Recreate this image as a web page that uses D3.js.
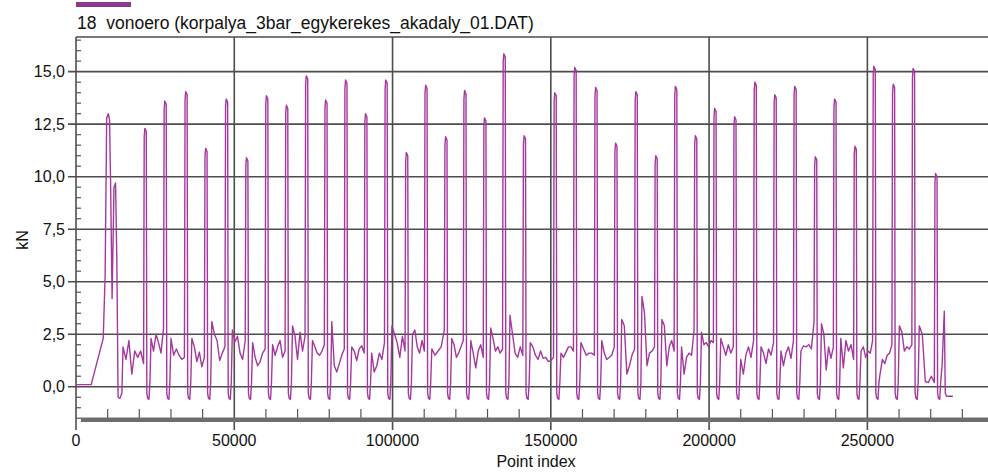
<!DOCTYPE html>
<html>
<head>
<meta charset="utf-8">
<script src="https://cdn.jsdelivr.net/npm/d3@7"></script>
<style>
  body { margin: 0; background: #fff; }
  svg { display: block; font-family: "Liberation Sans", Arial, sans-serif; }
  .title { white-space: pre; }
</style>
</head>
<body>
<svg id="canvas" width="988" height="472"></svg>
<script>
// lead-in: flat start, ramp, the double peak and its trough
const leadIndex = [0, 4800, 8600, 9200, 9700, 10200, 10600, 10900, 11400, 12000, 12500, 12900, 13300, 13900, 14500]
const leadKN = [0.1, 0.1, 2.3, 5.3, 12.8, 13.0, 12.7, 10.0, 4.2, 9.5, 9.7, 6.0, -0.5, -0.55, -0.3]

// main spikes (point index of the top, height in kN)
const peakIndex = [22000, 28300, 34900, 41200, 47700, 54100, 60400, 66700, 73000, 79100,
  85400, 91700, 98100, 104600, 110700, 117000, 123000, 129300, 135400, 141800,
  151500, 157800, 164400, 170700, 177100, 183400, 189600, 195900, 202000, 208300,
  214700, 221000, 227300, 233800, 239900, 246300, 252300, 258400, 264700, 271800]
const peakKN = [12.3, 13.6, 14.05, 11.35, 13.7, 10.9, 13.85, 13.4, 14.8, 13.65,
  14.6, 13.0, 14.6, 11.15, 14.35, 11.9, 14.1, 12.8, 15.85, 11.95,
  14.0, 15.2, 14.25, 11.6, 14.05, 11.0, 14.3, 11.95, 13.25, 12.85,
  14.5, 13.9, 14.3, 10.95, 13.7, 11.45, 15.25, 14.4, 15.15, 10.15]

// baseline wiggle read between the spikes (one list per gap, before each peak)
const gapKN = [
  [1.9, 1.3, 2.2, 0.6, 1.7, 1.4, 1.7, 1.1],
  [2.3, 1.7, 2.5, 2.1, 1.6, 2.8],
  [2.3, 1.5, 1.8, 1.5, 1.3, 1.4],
  [2.3, 1.9, 1.2, 1.65, 0.95, 1.4],
  [3.1, 2.5, 2.2, 1.25, 1.6, 1.9],
  [2.7, 2.15, 2.4, 1.6, 1.3, 2.2],
  [2.1, 1.4, 1.0, 1.2, 1.6, 1.8],
  [2.0, 1.5, 1.9, 2.2, 1.4, 1.7],
  [2.9, 2.4, 1.3, 2.6, 1.7, 2.4],
  [2.2, 1.9, 1.6, 1.5, 1.7, 2.0],
  [3.1, 1.0, 0.7, 1.1, 1.5, 1.8],
  [1.9, 1.7, 1.25, 1.8, 1.95, 1.6],
  [1.6, 0.7, 1.0, 1.6, 1.3, 2.1],
  [2.9, 2.5, 2.1, 1.4, 2.4, 1.7],
  [2.5, 2.7, 1.9, 1.6, 2.2, 1.7],
  [1.8, 1.5, 1.7, 1.9, 2.7],
  [2.3, 2.0, 1.4, 1.6, 1.9, 2.2],
  [2.2, 1.6, 0.9, 1.7, 2.0, 1.4],
  [2.8, 2.3, 1.7, 1.9, 1.6, 1.8],
  [3.4, 2.5, 1.6, 1.4, 1.9, 1.5],
  [2.1, 1.9, 1.5, 1.3, 1.7, 1.35, 1.4, 1.2, 1.25, 1.4],
  [1.6, 1.4, 1.65, 1.9, 1.9, 1.7],
  [2.1, 1.8, 1.5, 1.6, 1.6, 1.5],
  [2.2, 1.6, 1.3, 1.4, 1.5, 1.9],
  [3.2, 2.9, 0.6, 1.0, 1.5, 1.8],
  [4.3, 3.5, 1.0, 1.6, 1.7, 1.9],
  [3.2, 2.9, 1.0, 1.9, 2.2, 1.7],
  [1.9, 0.6, 1.4, 1.6, 1.5, 2.7],
  [2.6, 2.0, 2.1, 1.9, 2.2, 2.1],
  [2.3, 1.9, 1.5, 2.0, 1.6, 1.9],
  [1.3, 0.6, 1.5, 1.9, 1.4, 2.2],
  [1.9, 1.6, 1.1, 1.8, 1.5, 2.1],
  [1.7, 1.0, 1.6, 1.9, 1.35, 2.2],
  [1.7, 1.95, 1.9, 2.0, 1.8, 3.1],
  [3.0, 2.5, 0.8, 1.9, 1.35, 1.9],
  [2.3, 0.9, 2.2, 1.7, 2.0, 1.3],
  [1.7, 1.9, 1.4, 1.7, 1.6, 2.2],
  [0.6, 1.3, 1.1, 1.5, 1.6, 2.0],
  [2.9, 2.6, 1.7, 1.9, 1.8, 2.0],
  [2.9, 2.5, 0.25, 0.2, 0.5, 0.2]
]
const troughKN = -0.55

// tail after the last big spike
const tailIndex = [273600, 274300, 274600, 275000, 277000]
const tailKN = [1.0, 3.6, -0.3, -0.45, -0.45]

const yTicks = [0, 2.5, 5, 7.5, 10, 12.5, 15]
const xTicks = [0, 50000, 100000, 150000, 200000, 250000]

let svg = d3.select('#canvas')

let plotLeft = 76, plotTop = 37, plotBottom = 419.3
let x = d3.scaleLinear().domain([0, 290000]).range([plotLeft, 994])
let y = d3.scaleLinear().domain([-1.55, 16.65]).range([plotBottom, plotTop])

// build the trace
let pts = leadIndex.map((d, i) => [d, leadKN[i]])
let prevEnd = leadIndex[leadIndex.length - 1]
peakIndex.forEach((p, i) => {
  let h = peakKN[i]
  let g = gapKN[i]
  let a = prevEnd + 350, b = p - 650
  g.forEach((v, j) => {
    pts.push([a + (b - a) * j / (g.length - 1), v])
  })
  pts.push([p - 450, h - 0.4])
  pts.push([p - 250, h])
  pts.push([p + 200, h - 0.15])
  pts.push([p + 380, -0.3])
  pts.push([p + 650, troughKN])
  pts.push([p + 1050, troughKN - 0.05])
  pts.push([p + 1350, 0.2])
  prevEnd = p + 1350
})
tailIndex.forEach((d, i) => pts.push([d, tailKN[i]]))

svg.append('defs').append('clipPath').attr('id', 'plotclip')
  .append('rect').attr('x', plotLeft).attr('y', plotTop)
  .attr('width', 988 - plotLeft).attr('height', plotBottom - plotTop + 2)

// legend swatch + title
svg.append('rect').attr('x', 76).attr('y', 2).attr('width', 55).attr('height', 5).attr('fill', '#8e3a8c')
svg.append('text').attr('class', 'title').attr('x', 77).attr('y', 29)
  .attr('font-size', 17.5).attr('fill', '#111')
  .text('18  vonoero (korpalya_3bar_egykerekes_akadaly_01.DAT)')

let grid = svg.append('g').attr('stroke', '#4d4d4d').attr('stroke-width', 1.6)

// horizontal gridlines + outer ticks
grid.selectAll('line.h').data(yTicks).enter().append('line')
  .attr('x1', 68).attr('x2', 988)
  .attr('y1', d => y(d)).attr('y2', d => y(d))

// top border
grid.append('line').attr('x1', plotLeft).attr('x2', 988).attr('y1', plotTop).attr('y2', plotTop)

// vertical gridlines, extended below the axis as ticks
grid.selectAll('line.v').data(xTicks).enter().append('line')
  .attr('x1', d => x(d)).attr('x2', d => x(d))
  .attr('y1', plotTop).attr('y2', 430)

// minor ticks
let yMinor = d3.range(-3, 34).map(d => d * 0.5)
  .filter(d => d % 2.5 !== 0 && y(d) > plotTop + 1 && y(d) < plotBottom - 1)
svg.append('g').attr('stroke', '#555').attr('stroke-width', 1.2)
  .selectAll('line').data(yMinor).enter().append('line')
  .attr('x1', plotLeft).attr('x2', plotLeft + 5)
  .attr('y1', d => y(d)).attr('y2', d => y(d))

let xMinor = d3.range(10000, 290000, 10000).filter(d => d % 50000 !== 0)
svg.append('g').attr('stroke', '#555').attr('stroke-width', 1.2)
  .selectAll('line').data(xMinor).enter().append('line')
  .attr('x1', d => x(d)).attr('x2', d => x(d))
  .attr('y1', 409).attr('y2', 418)

// axis band at the bottom
svg.append('rect').attr('x', 81).attr('y', 417.5).attr('width', 910).attr('height', 4.5).attr('fill', '#6e6e6e')

// the trace
let line = d3.line().x(d => x(d[0])).y(d => y(d[1]))
svg.append('path').datum(pts)
  .attr('clip-path', 'url(#plotclip)')
  .attr('fill', 'none')
  .attr('stroke', '#a6379e')
  .attr('stroke-width', 1.4)
  .attr('stroke-linejoin', 'round')
  .attr('d', line)

// tick labels
let fmt = d3.format('.1f')
svg.append('g').selectAll('text').data(yTicks).enter().append('text')
  .attr('x', 65).attr('y', d => y(d)).attr('dy', '0.35em')
  .attr('text-anchor', 'end').attr('font-size', 16).attr('fill', '#111')
  .text(d => fmt(d).replace('.', ','))

svg.append('g').selectAll('text').data(xTicks).enter().append('text')
  .attr('x', d => x(d)).attr('y', 446)
  .attr('text-anchor', 'middle').attr('font-size', 16).attr('fill', '#111')
  .text(d => d)

svg.append('text').attr('x', 536).attr('y', 467)
  .attr('text-anchor', 'middle').attr('font-size', 16).attr('fill', '#111')
  .text('Point index')

svg.append('text').attr('transform', 'translate(28,240) rotate(-90)')
  .attr('text-anchor', 'middle').attr('font-size', 16).attr('fill', '#111')
  .text('kN')
</script>
</body>
</html>
